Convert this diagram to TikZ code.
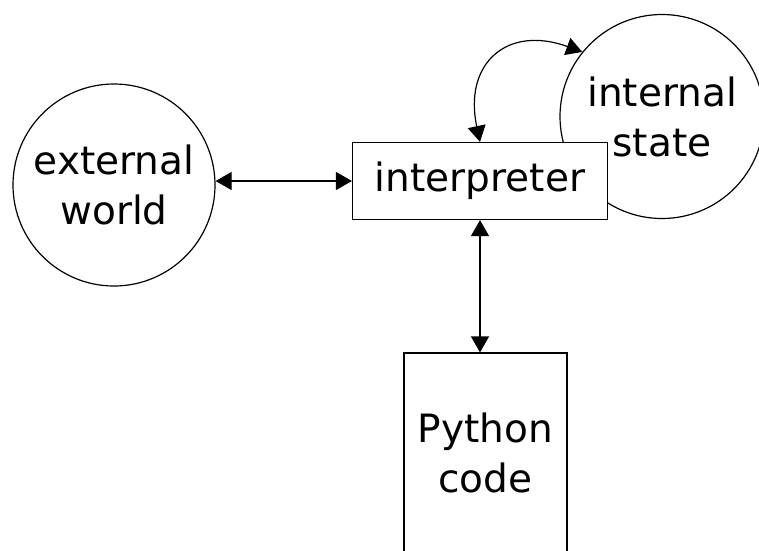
\documentclass[tikz,border=0pt]{standalone}
\usepackage{fontspec}
\setmainfont{DejaVu Sans}
\usetikzlibrary{arrows.meta}
\begin{document}
\begin{tikzpicture}[x=1pt,y=-1pt,
  every node/.style={font=\fontsize{39}{50}\selectfont, align=center, inner sep=0pt},
  ball/.style={draw, circle, line width=1.2pt},
  boxnode/.style={draw, rectangle, line width=1.2pt, fill=white},
  link/.style={line width=1.2pt, {Triangle[length=16pt,width=18pt]}-{Triangle[length=16pt,width=18pt]}}]
\useasboundingbox (0,0) rectangle (759,550);
\clip (0,0) rectangle (759,550);
% circles for the world and the state
\node[ball, minimum size=202pt] (ext) at (114,185) {external\\world};
\node[ball, minimum size=204pt] (state) at (662,116.5) {internal\\state};
% boxes
\node[boxnode, minimum width=255pt, minimum height=77pt] (interp) at (480,181) {interpreter};
\node[boxnode, minimum width=163pt, minimum height=200pt] (py) at (485.5,453) {Python\\code};
% connectors
\draw[link] (ext.east |- interp.west) -- (interp.west);
\draw[link] (interp.south) -- (interp.south |- py.north);
\draw[link] (interp.north) to[out=102, in=160, looseness=1.5] (state.141);
\end{tikzpicture}
\end{document}
